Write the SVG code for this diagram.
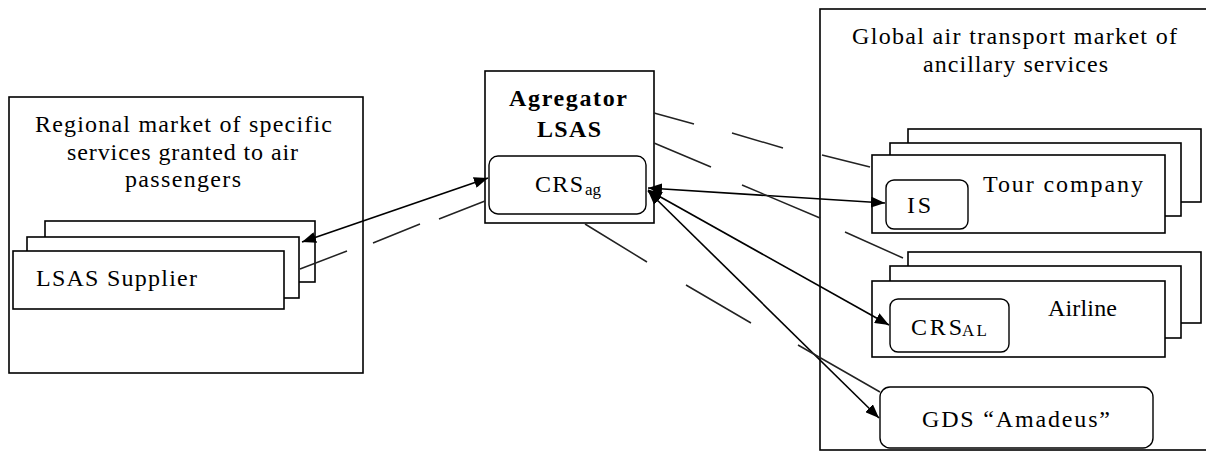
<svg xmlns="http://www.w3.org/2000/svg" width="1206" height="452" viewBox="0 0 1206 452">
<style>
  .box{fill:#fff;stroke:#000;stroke-width:1.6}
  .rbox{fill:#fff;stroke:#000;stroke-width:1.4}
  .t{font-family:"Liberation Serif","Times New Roman",serif;font-size:24px;fill:#000}
  .b{font-weight:bold}
  .sub{font-size:17px}
  .arr{fill:none;stroke:#000;stroke-width:1.6;marker-start:url(#ah);marker-end:url(#ah)}
  .dash{fill:none;stroke:#222;stroke-width:1.5}
</style>
<defs>
  <marker id="ah" markerUnits="userSpaceOnUse" markerWidth="15" markerHeight="11" refX="14" refY="5.5" orient="auto-start-reverse">
    <path d="M0,0 L14,5.5 L0,11 z" fill="#000"/>
  </marker>
</defs>
<rect width="1206" height="452" fill="#fff"/>

<g id="regional-market">
  <rect class="box" x="9" y="97" width="354" height="276"/>
  <text class="t" x="35" y="132" textLength="297" lengthAdjust="spacing">Regional market of specific</text>
  <text class="t" x="67" y="160" textLength="231" lengthAdjust="spacing">services granted to air</text>
  <text class="t" x="125" y="187" textLength="116" lengthAdjust="spacing">passengers</text>
</g>

<g id="lsas-supplier">
  <rect class="box" x="45" y="221" width="270" height="61"/>
  <rect class="box" x="27" y="237" width="272" height="61"/>
  <rect class="box" x="13" y="251" width="271" height="58"/>
  <text class="t" x="36" y="286" textLength="161" lengthAdjust="spacing">LSAS Supplier</text>
</g>

<g id="aggregator">
  <rect class="box" x="485" y="71" width="169" height="152"/>
  <text class="t b" x="509" y="106" textLength="118" lengthAdjust="spacing">Agregator</text>
  <text class="t b" x="537" y="137" textLength="64" lengthAdjust="spacing">LSAS</text>
</g>

<g id="crs-ag">
  <rect class="rbox" x="489" y="156" width="157" height="58" rx="9"/>
  <text class="t" x="535" y="192"><tspan textLength="48" lengthAdjust="spacing">CRS</tspan><tspan class="sub" x="585" y="195">ag</tspan></text>
</g>

<g id="global-market">
  <rect class="box" x="820" y="9" width="400" height="441"/>
  <text class="t" x="852" y="44" textLength="325" lengthAdjust="spacing">Global air transport market of</text>
  <text class="t" x="923" y="72" textLength="185" lengthAdjust="spacing">ancillary services</text>
</g>

<g id="tour-company">
  <rect class="box" x="908" y="129" width="293" height="73"/>
  <rect class="box" x="890" y="143" width="291" height="73"/>
  <rect class="box" x="872" y="155" width="293" height="78"/>
  <text class="t" x="983" y="192" textLength="160" lengthAdjust="spacing">Tour company</text>
</g>

<g id="is">
  <rect class="rbox" x="886" y="180" width="82" height="49" rx="8"/>
  <text class="t" x="907" y="213" textLength="24" lengthAdjust="spacing">IS</text>
</g>

<g id="airline">
  <rect class="box" x="908" y="252" width="293" height="71"/>
  <rect class="box" x="890" y="266" width="291" height="72"/>
  <rect class="box" x="872" y="281" width="293" height="76"/>
  <text class="t" x="1048" y="316" textLength="69" lengthAdjust="spacing">Airline</text>
</g>

<g id="crs-al">
  <rect class="rbox" x="890" y="299" width="119" height="53" rx="8"/>
  <text class="t" x="911" y="335"><tspan textLength="51" lengthAdjust="spacing">CRS</tspan><tspan class="sub" x="962" y="336" textLength="25" lengthAdjust="spacing">AL</tspan></text>
</g>

<g id="gds">
  <rect class="rbox" x="880" y="387" width="273" height="61" rx="10"/>
  <text class="t" x="922" y="427" textLength="188" lengthAdjust="spacing">GDS “Amadeus”</text>
</g>

<g id="connectors">
  <line class="arr" x1="302" y1="242" x2="488" y2="178"/>
  <line class="arr" x1="648" y1="188" x2="885" y2="203"/>
  <line class="arr" x1="648" y1="190" x2="889" y2="325"/>
  <line class="arr" x1="648" y1="191" x2="879" y2="418"/>
  <path class="dash" d="M300,269 L347,251 M373,243 L420,224 M439,219 L485,201"/>
  <path class="dash" d="M654,113 L694,124 M732,133 L783,148 M822,155 L870,167"/>
  <path class="dash" d="M654,143 L711,167 M742,185 L820,218 M845,232 L903,258"/>
  <path class="dash" d="M585,224 L647,262 M686,285 L751,323 M798,345 L880,392"/>
</g>
</svg>
